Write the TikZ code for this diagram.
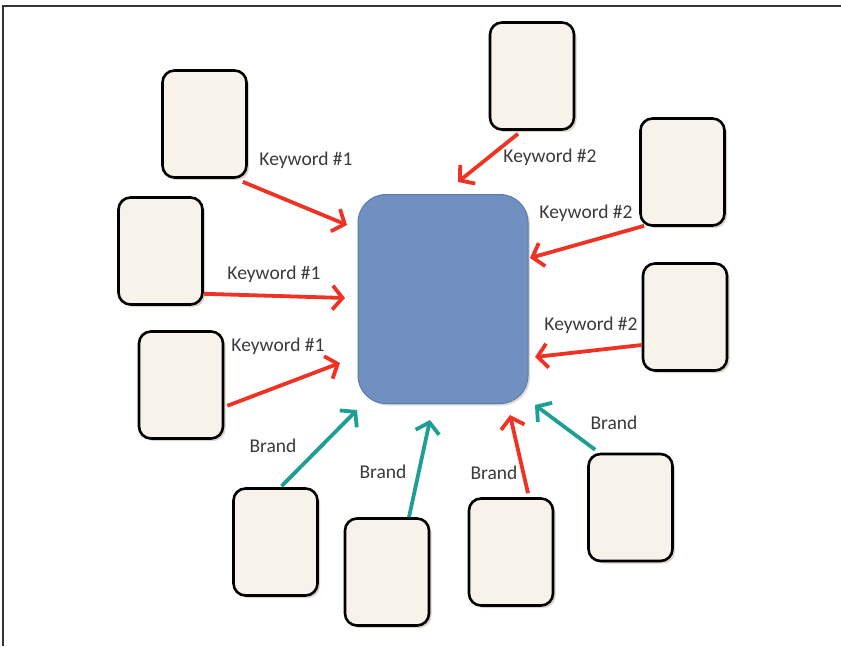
\documentclass[tikz,border=0pt]{standalone}
\usepackage{fontspec}
\setmainfont{Carlito}
\usetikzlibrary{arrows.meta,shadows,calc}

\definecolor{cream}{HTML}{F7F3EA}
\definecolor{hubblue}{HTML}{7090C2}
\definecolor{hubedge}{HTML}{5C7BAE}
\definecolor{kwred}{HTML}{EE3324}
\definecolor{brandteal}{HTML}{1E9E94}
\definecolor{labelgray}{HTML}{3A3A3A}

\tikzset{
  card/.style={draw=black, line width=2.6pt, fill=cream, rounded corners=12pt,
    minimum width=84pt, minimum height=107pt, inner sep=0pt,
    drop shadow={shadow xshift=2.5pt, shadow yshift=-2.5pt, opacity=0.35, fill=brown!50!gray}},
  hub/.style={draw=hubedge, line width=1pt, fill=hubblue, rounded corners=28pt,
    minimum width=170pt, minimum height=209pt, inner sep=0pt,
    drop shadow={shadow xshift=2pt, shadow yshift=-2pt, opacity=0.3, fill=gray}},
  link/.style={line width=3.8pt, -{Straight Barb[length=10pt,width=24pt]}},
  kwlink/.style={link, draw=kwred},
  brlink/.style={link, draw=brandteal},
  tag/.style={font=\fontsize{19.5}{21}\selectfont, text=labelgray, inner sep=0pt}
}

\begin{document}
\begin{tikzpicture}[x=1pt, y=-1pt]
  \useasboundingbox (0,0) rectangle (841,646);

  % frame lines along the top and left edges
  \coordinate (fr1) at (3,6);
  \coordinate (fr2) at (841,6);
  \coordinate (fr3) at (3,646);
  \draw[line width=1.4pt, black!80] (fr3) -- (fr1) -- (fr2);

  % central block
  \node[hub] (M) at (443,299) {};

  % surrounding cards
  \node[card] (A) at (204.5,124) {};
  \node[card] (B) at (160.5,251) {};
  \node[card] (C) at (181,385) {};
  \node[card] (D) at (275.5,542) {};
  \node[card] (E) at (387,572) {};
  \node[card] (F) at (511,552) {};
  \node[card] (G) at (630.5,507.5) {};
  \node[card] (H) at (685,317) {};
  \node[card] (I) at (682.5,172) {};
  \node[card] (J) at (532,76) {};

  % arrow tips around the central block
  \coordinate (t1) at (347,225);
  \coordinate (t2) at (345,298);
  \coordinate (t3) at (340,363);
  \coordinate (t4) at (458,182);
  \coordinate (t5) at (530,258);
  \coordinate (t6) at (535,357);
  \coordinate (t7) at (357,410);
  \coordinate (t8) at (430,420);
  \coordinate (t9) at (510,415);
  \coordinate (t10) at (535,405);

  % keyword links
  \draw[kwlink] ([xshift=-5pt,yshift=-3pt]A.south east) -- (t1);
  \draw[kwlink] ([yshift=12pt]B.south east) -- (t2);
  \draw[kwlink] ([xshift=3pt,yshift=34pt]C.south east) -- (t3);
  \draw[kwlink] ([xshift=-14pt,yshift=-3pt]J.south) -- (t4);
  \draw[kwlink] ([xshift=5pt,yshift=1pt]I.south west) -- (t5);
  \draw[kwlink] ([yshift=-28pt]H.west) -- (t6);

  % brand links
  \draw[brlink] ([xshift=6pt,yshift=1pt]D.north) -- (t7);
  \draw[brlink] ([xshift=22pt]E.north) -- (t8);
  \draw[kwlink] ([xshift=17pt,yshift=4pt]F.north) -- (t9);
  \draw[brlink] ([xshift=8pt,yshift=3pt]G.north west) -- (t10);

  % labels
  \node[tag] (l1) at (306,160) {Keyword \#1};
  \node[tag] (l2) at (274,274) {Keyword \#1};
  \node[tag] (l3) at (278,346) {Keyword \#1};
  \node[tag] (l4) at (550,157) {Keyword \#2};
  \node[tag] (l5) at (586,213) {Keyword \#2};
  \node[tag] (l6) at (591,325) {Keyword \#2};
  \node[tag] (l7) at (273,446) {Brand};
  \node[tag] (l8) at (383,472) {Brand};
  \node[tag] (l9) at (494,473) {Brand};
  \node[tag] (l10) at (614,423) {Brand};
\end{tikzpicture}
\end{document}
